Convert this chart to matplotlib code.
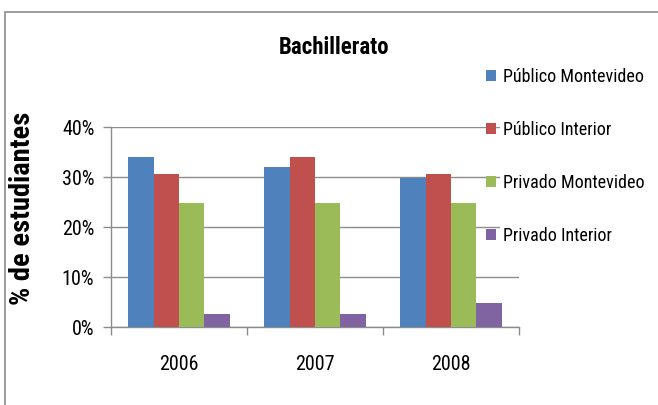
import matplotlib
matplotlib.use("Agg")
import matplotlib.pyplot as plt
from matplotlib import font_manager
from matplotlib.patches import Rectangle
import numpy as np

years = ["2006", "2007", "2008"]
series = ["Público Montevideo", "Público Interior", "Privado Montevideo", "Privado Interior"]
publico_mvd = [0.341, 0.321, 0.299]
publico_int = [0.307, 0.341, 0.307]
privado_mvd = [0.249, 0.249, 0.249]
privado_int = [0.027, 0.027, 0.049]
colors = ["#4F81BD", "#C0504D", "#9BBB59", "#8064A2"]
yticks = [0, 0.1, 0.2, 0.3, 0.4]

# prefer a narrow face like the original (Arial Narrow style), else Liberation Sans
names = {f.name for f in font_manager.fontManager.ttflist}
wanted = ["Liberation Sans Narrow", "Roboto Condensed", "Open Sans Condensed", "Liberation Sans"]
fam = [n for n in wanted if n in names] or ["DejaVu Sans"]
plt.rcParams["font.family"] = [fam[0], "DejaVu Sans"]

W, H = 658, 405
fig = plt.figure(figsize=(W / 100, H / 100), dpi=100)
ax = fig.add_axes([111 / W, 1 - 327.3 / H, 408 / W, 200 / H])

# outer chart border
fig.patches.append(Rectangle((5 / W, -0.1), 1.2, 1 - 12 / H + 0.1, transform=fig.transFigure,
                             fill=False, edgecolor="#8c8c8c", linewidth=1.2))

x = np.arange(len(years))
w = 0.186
values = [publico_mvd, publico_int, privado_mvd, privado_int]
handles = []
for i, (vals, name, c) in enumerate(zip(values, series, colors)):
    h = ax.bar(x + (i - 1.5) * w, vals, w, color=c, label=name, zorder=3)
    handles.append(h)

ax.set_xlim(-0.5, 2.5)
ax.set_ylim(0, 0.4)
ax.set_yticks(yticks)
ax.set_yticklabels([f"{int(round(t * 100))}%" for t in yticks], fontsize=14.5)
ax.set_xticks(x)
ax.set_xticklabels(years, fontsize=14.5)
ax.set_xticks([-0.5, 0.5, 1.5, 2.5], minor=True)
ax.tick_params(axis="x", which="major", length=0, pad=20)
ax.tick_params(axis="x", which="minor", length=6, color="#8c8c8c", width=1)
ax.tick_params(axis="y", length=6, color="#8c8c8c", width=1, pad=6)
ax.yaxis.grid(True, color="#8c8c8c", linewidth=1, zorder=0)
ax.set_axisbelow(True)
for s in ["top", "right"]:
    ax.spines[s].set_visible(False)
for s in ["left", "bottom"]:
    ax.spines[s].set_color("#8c8c8c")
    ax.spines[s].set_linewidth(1)

fig.text(334 / W, 1 - 48 / H, "Bachillerato", ha="center", va="center",
         fontsize=16.5, fontweight="bold")
fig.text(23 / W, 1 - 208 / H, "% de estudiantes", ha="center", va="center",
         rotation=90, fontsize=20.5, fontweight="bold")

leg = fig.legend(handles=handles, labels=series, loc="upper left",
                 bbox_to_anchor=(486 / W, 1 - 68 / H), frameon=False, fontsize=13,
                 handlelength=0.55, handleheight=0.55, handletextpad=0.4,
                 labelspacing=1.93, borderaxespad=0, borderpad=0)
for t in leg.get_texts():
    t.set_bbox(dict(facecolor="white", edgecolor="none", pad=2))

fig.savefig("out.png", dpi=100)
